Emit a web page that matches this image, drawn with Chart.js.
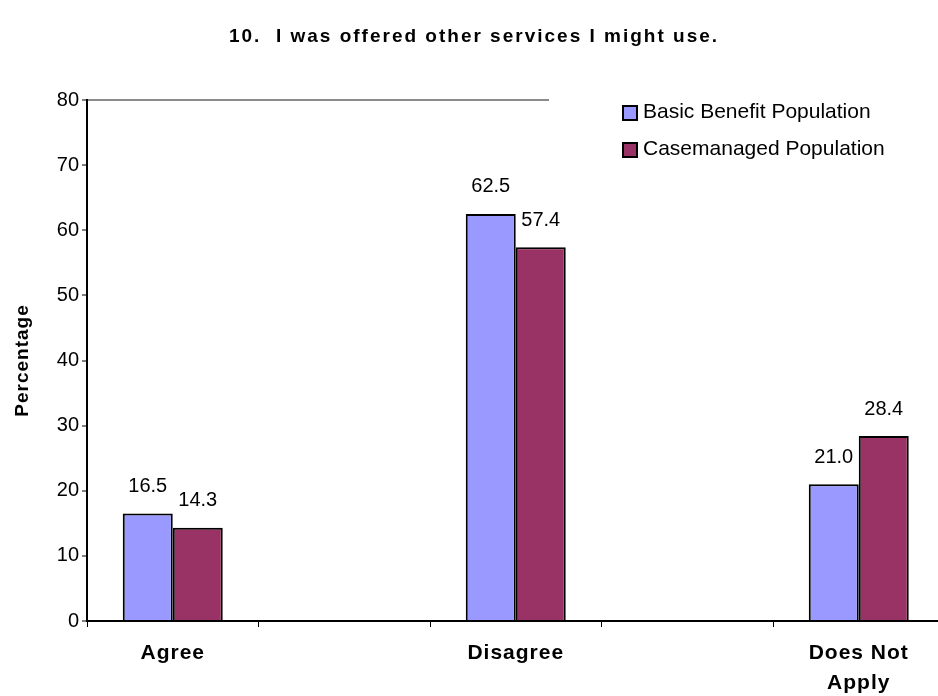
<!DOCTYPE html>
<html>
<head>
<meta charset="utf-8">
<title>Survey question 10</title>
<script src="https://cdn.jsdelivr.net/npm/chart.js@4.4.1/dist/chart.umd.min.js"></script>
<style>
  html, body { margin: 0; padding: 0; background: #fff; overflow: hidden; }
  #wrap { position: relative; width: 938px; height: 696px; overflow: hidden; }
  #chart { position: absolute; left: 0; top: 0; }
  #title {
    position: absolute; left: 0; top: 25px; width: 948px;
    text-align: center; color: #000;
    font: bold 19px "Liberation Sans", Arial, sans-serif;
    letter-spacing: 2px;
  }
</style>
</head>
<body>
<div id="wrap">
  <canvas id="chart" width="950" height="696"></canvas>
  <div id="title">10.&nbsp; I was offered other services I might use.</div>
</div>
<script>
// Answer categories (empty slots keep the gaps between the groups)
const categories = ['Agree', '', 'Disagree', '', ['Does Not', 'Apply']];

// Percentages per population
const basicBenefit = [16.5, null, 62.5, null, 21.0];
const caseManaged = [14.3, null, 57.4, null, 28.4];

// Value axis
const yMin = 0;
const yMax = 80;
const yStep = 10;

const FONT = "'Liberation Sans', Arial, sans-serif";
Chart.defaults.font.family = FONT;
Chart.defaults.color = '#000';

// Spaced-out lettering for the bold axis texts; the value labels
// and y tick labels are drawn later, after it is switched off again
const spacedText = {
    id: 'spacedText',
    beforeDraw(chart) { chart.ctx.letterSpacing = '1px'; },
    beforeDatasetsDraw(chart) { chart.ctx.letterSpacing = '0px'; }
};

// Prints the value above each bar
const valueLabels = {
    id: 'valueLabels',
    afterDatasetsDraw(chart) {
        const ctx = chart.ctx;
        ctx.save();
        ctx.font = '20px ' + FONT;
        ctx.fillStyle = '#000';
        ctx.textAlign = 'center';
        ctx.textBaseline = 'middle';
        chart.data.datasets.forEach((ds, i) => {
            chart.getDatasetMeta(i).data.forEach((bar, j) => {
                const v = ds.data[j];
                if (v === null || v === undefined) return;
                ctx.fillText(v.toFixed(1), bar.x, bar.y - 27);
            });
        });
        ctx.restore();
    }
};

// Legend box in the upper right, on a white background over the frame
const boxLegend = {
    id: 'boxLegend',
    afterDraw(chart) {
        const ctx = chart.ctx;
        const left = 549;
        ctx.save();
        ctx.letterSpacing = '0px';
        ctx.fillStyle = '#fff';
        ctx.fillRect(left, 88, chart.width - left, 82);
        ctx.font = '21px ' + FONT;
        ctx.textBaseline = 'middle';
        ctx.textAlign = 'left';
        chart.data.datasets.forEach((ds, i) => {
            const y = 112 + i * 37;
            ctx.fillStyle = ds.backgroundColor;
            ctx.fillRect(623, y - 6, 14, 14);
            ctx.lineWidth = 2;
            ctx.strokeStyle = '#000';
            ctx.strokeRect(623, y - 6, 14, 14);
            ctx.fillStyle = '#000';
            ctx.fillText(ds.label, 643, y);
        });
        ctx.restore();
    }
};

const ctx = document.getElementById('chart').getContext('2d');
const chart = new Chart(ctx, {
    type: 'bar',
    data: {
        labels: categories,
        datasets: [
            {
                label: 'Basic Benefit Population',
                data: basicBenefit,
                backgroundColor: '#9999FF',
                borderColor: '#000',
                borderWidth: 2
            },
            {
                label: 'Casemanaged Population',
                data: caseManaged,
                backgroundColor: '#993366',
                borderColor: '#000',
                borderWidth: 2
            }
        ]
    },
    options: {
        responsive: false,
        animation: false,
        devicePixelRatio: 1,
        layout: { padding: { top: 100, right: 5.5, left: 0, bottom: 0 } },
        categoryPercentage: 0.583,
        barPercentage: 1.0,
        plugins: {
            legend: { display: false },
            title: { display: false },
            tooltip: { enabled: false }
        },
        scales: {
            x: {
                type: 'category',
                offset: true,
                grid: { offset: true, drawOnChartArea: false, tickLength: 6, tickColor: '#000', tickWidth: 1 },
                border: { color: '#000', width: 2 },
                ticks: {
                    font: { size: 21, weight: 'bold', lineHeight: 1.45 },
                    color: '#000',
                    maxRotation: 0,
                    autoSkip: false,
                    padding: 11
                },
                afterFit(scale) { scale.height = 75; }
            },
            y: {
                min: yMin,
                max: yMax,
                ticks: { stepSize: yStep, font: { size: 20 }, color: '#000', padding: 3, z: 1 },
                grid: {
                    color: c => (c.tick && c.tick.value === yMax) ? '#8c8c8c' : 'rgba(0,0,0,0)',
                    lineWidth: 2,
                    tickLength: 5,
                    tickColor: '#000',
                    tickWidth: 1
                },
                border: { color: '#000', width: 2 },
                title: {
                    display: true,
                    text: 'Percentage',
                    font: { size: 19, weight: 'bold' },
                    color: '#000',
                    padding: { top: 11, bottom: 0 }
                },
                afterFit(scale) { scale.width = 87; }
            }
        }
    },
    plugins: [spacedText, valueLabels, boxLegend]
});
</script>
</body>
</html>
